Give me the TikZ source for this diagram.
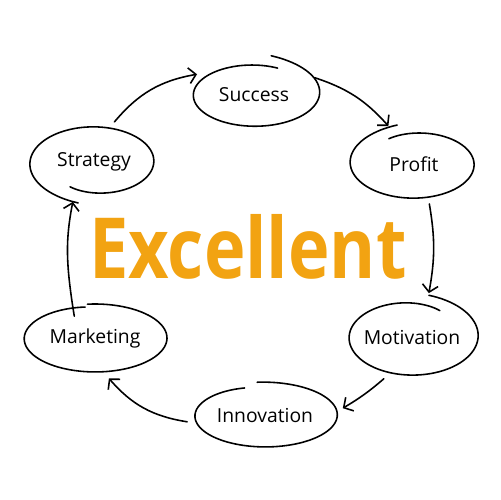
\documentclass[tikz,border=0pt]{standalone}
\usepackage{fontspec}
\setmainfont{Open Sans}
\usetikzlibrary{shapes.geometric,arrows.meta}
\definecolor{excorange}{RGB}{242,163,18}
% hand drawn ring round a node: node, rx, ry, start angle, sweep, shrink at start, growth at end
\newcommand\sketchloop[7]{%
  \draw[shift={(#1.center)}] plot[domain=0:1,samples=100,smooth]
    ({#2*(1-#6*((1-\x)*(1-\x))^3+#7*\x^6)*cos(#4+#5*\x)},
     {#3*(1-#6*((1-\x)*(1-\x))^3+#7*\x^6)*sin(#4+#5*\x)});}
\begin{document}
\begin{tikzpicture}[x=0.02cm,y=-0.02cm,line width=0.9pt,line cap=round,line join=round,>={Straight Barb[length=4pt,width=9pt]},
  bubble/.style={ellipse,inner sep=0pt,outer sep=4pt,font=\fontsize{11}{13}\selectfont},
  link/.style={->}]
\useasboundingbox (0,0) rectangle (500,500);
\node[bubble,minimum width=2.44cm,minimum height=1.24cm] (success) at (254,95) {Success};
\node[bubble,minimum width=2.44cm,minimum height=1.36cm] (profit) at (414,164) {Profit};
\node[bubble,minimum width=2.56cm,minimum height=1.52cm] (motivation) at (412,337) {Motivation};
\node[bubble,minimum width=2.88cm,minimum height=1.28cm] (innovation) at (265,415) {Innovation};
\node[bubble,minimum width=2.88cm,minimum height=1.36cm] (marketing) at (95,338) {Marketing};
\node[bubble,minimum width=2.44cm,minimum height=1.40cm] (strategy) at (94,162) {Strategy};
\node[font=\bfseries\fontsize{40}{44}\selectfont,text=excorange,yscale=1.2,transform shape] (excellent) at (248,247) {Excellent};
% rings
\sketchloop{success}{61}{31}{294}{-372}{0.05}{0.3}
\sketchloop{profit}{61}{34}{241}{376}{0.15}{0.18}
\sketchloop{motivation}{64}{38}{302}{-379}{0.18}{0.13}
\sketchloop{innovation}{72}{32}{264}{348}{-0.03}{-0.11}
\sketchloop{marketing}{72}{34}{264}{358}{0}{-0.08}
\sketchloop{strategy}{61}{35}{119}{-377}{0.19}{0.2}
% cycle
\draw[link] (strategy.63) to[bend left=20] (success.160);
\draw[link] (success.16) to[bend left=15] (profit.124);
\draw[link] (profit.291) to[bend left=10] (motivation.69);
\draw[link] (motivation.236) to[bend left=5] (innovation.5);
\draw[link] (innovation.185) to[bend left=20] (marketing.289);
\draw[link,shorten <=-10pt] (marketing.121) to[bend left=10] (strategy.242);
\end{tikzpicture}
\end{document}
